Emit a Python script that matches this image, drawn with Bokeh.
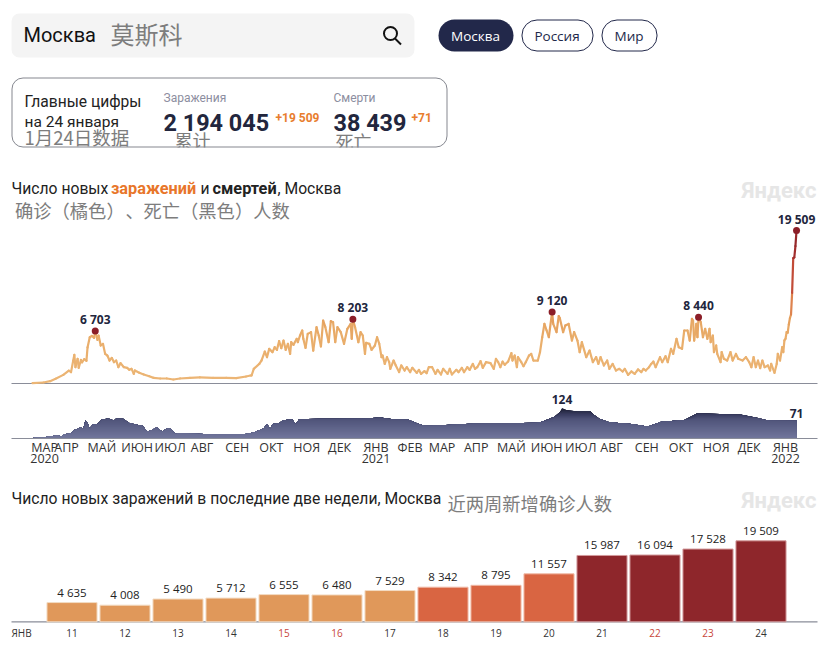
from bokeh.plotting import figure
from bokeh.layouts import column
from bokeh.models import Label, Range1d, FixedTicker, LinearAxis
from bokeh.core.properties import value
from bokeh.embed import file_html
from bokeh.resources import INLINE

# ---------- data ----------
# days since 1 March 2020
case_days = [0,10,16,21,28,33,35,37,38,39,41,42,44,45,47,49,50,52,54,56,57,59,60,62,64,66,68,70,72,74,76,78,80,83,86,88,90,92,93,97,101,106,110,116,122,128,134,143,152,164,176,185,194,198,
 199,201,206,208,211,213,215,218,220,222,224,226,228,230,232,234,235,237,240,241,243,245,246,248,250,253,255,258,260,262,264,266,269,271,273,275,277,280,283,286,289,290,291,293,296,298,300,302,303,306,308,311,313,315,317,318,320,322,324,325,328,330,333,335,338,340,343,345,349,351,353,356,358,360,363,366,368,371,373,377,379,381,385,387,390,392,395,397,400,402,404,407,409,412,416,
 419,421,423,425,427,429,432,435,436,438,440,441,444,446,448,451,453,455,459,461,463,465,467,469,472,473,476,478,479,482,484,487,490,492,495,497,499,503,506,509,512,514,516,519,522,524,527,530,533,536,538,541,544,547,550,553,
 555,557,560,562,564,566,570,572,575,577,580,582,585,587,590,592,595,597,599,600,601,603,604,605,607,609,611,613,615,616,618,619,621,622,625,626,628,631,634,636,639,641,645,648,651,653,655,657,659,661,663,665,668,670,671,674,676,677,679]
case_values = [40,130,300,600,1100,1650,1450,2930,3650,2080,3150,2000,3000,2700,3100,2900,4600,5900,6080,5820,6703,5570,6120,4850,5060,3780,3570,2930,3270,2720,2930,2080,2600,2080,2000,1740,1870,1230,1660,1360,1150,930,720,640,640,510,640,720,770,720,720,680,890,1020,
 1020,1870,2500,2930,4080,3360,4420,4000,4630,4290,5400,4500,5480,4290,5060,3780,5270,4930,5700,5270,6120,6760,5700,4550,6330,6550,4200,7180,6120,4720,8030,7180,5270,7950,7820,5270,7180,6550,5060,6970,7600,5700,8203,7180,5270,6550,6120,3780,5180,5060,4290,4850,5900,5060,3360,3570,2500,3360,2720,1870,2930,2300,1450,2300,1660,2080,1450,2000,1360,1740,1230,1570,1320,2080,2080,1230,1740,1150,1870,1230,1870,1150,1740,1450,2000,1450,2080,1740,2500,1870,2080,2850,2000,2720,2600,
 1870,3150,2720,2080,2800,2380,2800,3870,2930,3570,2080,3360,2720,2210,2720,3570,3780,2930,2930,4000,5900,7600,6760,5900,9120,7600,6550,8600,8330,6550,7400,7600,5480,6550,5480,4000,5270,3360,4200,2720,3360,2500,3360,2300,2930,1870,2500,1660,1870,1530,1870,1100,1530,1230,1790,1450,
 1870,1660,2080,2500,2800,2080,3360,2720,3480,2720,4420,3780,5700,4630,4420,6760,6760,5480,8250,8030,5480,7600,5900,8440,7820,5900,6970,5700,6970,5270,6120,4000,4850,3780,2720,4000,3150,2930,4000,2930,3780,3150,2930,3360,2720,2080,3360,2080,2930,1960,2930,2080,2300,1660,2500,1360,2500,3780,2930]

death_days = [1,12,16,22,27,28,35,38,44,46,48,50,52,54,59,63,69,74,76,82,88,95,100,104,107,113,118,121,125,130,134,143,156,168,180,192,201,207,210,213,216,218,224,227,233,236,239,242,250,262,277,301,316,329,341,351,356,362,398,458,462,474,479,481,485,495,507,510,515,524,544,559,571,592,604,644,659,668,694]
death_values = [1,4,7,10,7,15,19,33,44,37,72,65,37,55,58,76,81,72,81,81,62,55,51,28,30,44,26,37,41,17,21,18,17,14,15,15,23,34,40,58,37,58,61,72,76,76,58,76,78,80,80,81,85,76,76,58,51,51,59,63,66,88,106,124,116,109,109,96,80,65,58,48,67,74,102,96,83,72,71]

recent_dates = [11,12,13,14,15,16,17,18,19,20,21,22,23,24]
recent_cases = [4635,4008,5490,5712,6555,6480,7529,8342,8795,11557,15987,16094,17528,19509]
weekend_dates = [15,16,22,23]
recent_start_day = 681

peak_days = [57,291,472,605,694]
peak_values = [6703,8203,9120,8440,19509]
peak_labels = ["6 703","8 203","9 120","8 440","19 509"]
top_death = (481,124,"124")
last_death = (694,71,"71")

month_labels = ["МАР","АПР","МАЙ","ИЮН","ИЮЛ","АВГ","СЕН","ОКТ","НОЯ","ДЕК","ЯНВ","ФЕВ","МАР","АПР","МАЙ","ИЮН","ИЮЛ","АВГ","СЕН","ОКТ","НОЯ","ДЕК","ЯНВ"]
month_label_days = [11,31,63,95,125,154,186,217,249,279,312,343,372,403,435,467,498,526,558,589,621,651,684]
year_labels = ["2020","2021","2022"]
year_label_days = [11,312,684]

# ---------- style ----------
W = 831
UI = "Roboto"
NUM = "Open Sans"
CJK = "Noto Sans CJK SC"
INK = "#22263d"
GREY_CN = "#7d7d7d"
AXIS = "#8a8d99"
PX_PER_DAY = 1.1009
X0 = 32

def lerp_color(stops, v):
    if v <= stops[0][0]:
        return stops[0][1]
    for (a, ca), (b, cb) in zip(stops, stops[1:]):
        if v <= b:
            f = (v - a) / (b - a)
            rgb = [round(int(ca[i:i+2],16)*(1-f) + int(cb[i:i+2],16)*f) for i in (1,3,5)]
            return "#%02x%02x%02x" % tuple(rgb)
    return stops[-1][1]

def base(h, xr, yr, **kw):
    p = figure(width=W, height=h, x_range=xr, y_range=yr, output_backend="svg",
               toolbar_location=None, min_border=0, outline_line_color=None,
               x_axis_location=None, y_axis_location=None, **kw)
    p.grid.visible = False
    return p

def T(p, x, y, s, size, color, font=UI, style="normal", align="left", baseline="middle", **kw):
    p.text([x], [y], [s], text_font=value(font), text_font_size=f"{size}px", text_color=color,
           text_font_style=style, text_align=align, text_baseline=baseline, **kw)

def day(px):
    return (px - X0) / PX_PER_DAY

# ---------- header ----------
HB = 175
h = base(HB, Range1d(0, W), Range1d(HB, 0))
h.quad(left=[11], right=[414], top=[13], bottom=[57], fill_color="#f4f4f4", line_color=None, border_radius=8)
T(h, 23, 34, "Москва", 20, "#111111", UI)
T(h, 110, 32.5, "莫斯科", 24, GREY_CN, CJK)
h.scatter([390], [33], size=13, marker="circle", fill_color=None, line_color="#111111", line_width=2)
h.segment([394.5], [38], [400.5], [44], line_color="#111111", line_width=2)
h.quad(left=[438], right=[513], top=[19], bottom=[51], fill_color="#22284a", line_color=None, border_radius=16)
h.quad(left=[521.5], right=[592.5], top=[19.5], bottom=[50.5], fill_color="white", line_color="#22284a", border_radius=15)
h.quad(left=[601.5], right=[656.5], top=[19.5], bottom=[50.5], fill_color="white", line_color="#22284a", border_radius=15)
T(h, 475, 35, "Москва", 13.5, "white", NUM, align="center")
T(h, 556.5, 35, "Россия", 13.5, "#22284a", NUM, align="center")
T(h, 628.5, 35, "Мир", 13.5, "#22284a", NUM, align="center")
T(h, 24, 101.5, "Главные цифры", 15.6, "#222222", UI)
T(h, 24, 121.5, "на 24 января", 15.5, "#222222", UI)
T(h, 24, 136.5, "1月24日数据", 18.5, GREY_CN, CJK)
T(h, 174, 139, "累计", 18, GREY_CN, CJK)
T(h, 335, 140, "死亡", 18, GREY_CN, CJK)
h.quad(left=[11], right=[447], top=[147], bottom=[158], fill_color="white", line_color=None)
h.quad(left=[11.5], right=[446.5], top=[77.5], bottom=[146.5], fill_color=None, line_color="#85878f", border_radius=11)
T(h, 163, 97, "Заражения", 12, "#8c8ea0", UI)
T(h, 333, 97, "Смерти", 12, "#8c8ea0", UI)
T(h, 163, 122, "2 194 045", 23.4, INK, UI, "bold")
T(h, 333, 122, "38 439", 23.4, INK, UI, "bold")
T(h, 275, 117, "+19 509", 12, "#e87d2e", UI, "bold")
T(h, 411, 117, "+71", 12, "#e87d2e", UI, "bold")

# ---------- new cases ----------
MT, MB, BASE_Y = 175, 385, 383
K = 0.00784
days_all = case_days + [recent_start_day + i for i in range(len(recent_cases))]
vals_all = case_values + recent_cases
stops = [(0,"#ecb676"),(6000,"#e9ad6a"),(9000,"#e39a58"),(12000,"#d6603f"),(16000,"#a8322f"),(19509,"#8f2529")]
m = base(MB - MT, Range1d(day(0), day(W)), Range1d(-(MB - BASE_Y) / K, (BASE_Y - MT) / K))
m.segment([day(11)], [0], [day(817)], [0], line_color=AXIS, line_width=1.2)
m.segment(days_all[:-1], vals_all[:-1], days_all[1:], vals_all[1:],
          line_color=[lerp_color(stops, (a + b) / 2) for a, b in zip(vals_all, vals_all[1:])],
          line_width=2.2, line_cap="round")
m.scatter(peak_days, peak_values, size=7, marker="circle", fill_color="#8b1e28", line_color=None)
m.text(peak_days, peak_values, peak_labels, text_font=value(NUM), text_font_size="12px", text_font_style="bold",
       text_color=INK, text_align="center", text_baseline="bottom", y_offset=-3)

def L(p, bottom, x, y, s, size, color, font=UI, style="normal", align="left"):
    p.add_layout(Label(x=x, y=bottom - y, x_units="screen", y_units="screen", text=s, text_font=font,
                       text_font_size=f"{size}px", text_color=color, text_font_style=style,
                       text_baseline="middle", text_align=align))

L(m, MB, 11, 188, "Число новых", 15.7, "#222222")
L(m, MB, 110.5, 188, "заражений", 16.3, "#e8762a", UI, "bold")
L(m, MB, 200, 188, "и", 15.7, "#222222")
L(m, MB, 212, 188, "смертей", 16.3, "#222222", UI, "bold")
L(m, MB, 277, 188, ", Москва", 15.7, "#222222")
L(m, MB, 14.5, 209, "确诊（橘色）", 18.3, GREY_CN, CJK)
L(m, MB, 125, 209, "、", 18.3, GREY_CN, CJK)
L(m, MB, 143, 209, "死亡（黑色）人数", 18.3, GREY_CN, CJK)
L(m, MB, 741, 190, "Яндекс", 22, "#e6e6e6", UI, "bold")

# ---------- new deaths ----------
DB = 472
DK = 0.242
DFRAME = 437.5
d = base(DB - MB, Range1d(day(0), day(W)), Range1d(-(DB - DFRAME) / DK, (DFRAME - MB) / DK))
dstops = [(0,"#72779c"),(80,"#4f5379"),(100,"#383b5e"),(124,"#1b1d33")]
for level in range(124, 0, -3):
    d.varea(death_days, [0] * len(death_days), [min(v, level) for v in death_values],
            fill_color=lerp_color(dstops, level))
d.text([top_death[0]], [top_death[1]], [top_death[2]], text_font=value(NUM), text_font_size="12px", text_font_style="bold",
       text_color=INK, text_align="center", text_baseline="bottom", y_offset=-4)
d.text([last_death[0]], [last_death[1]], [last_death[2]], text_font=value(NUM), text_font_size="12px", text_font_style="bold",
       text_color=INK, text_align="center", text_baseline="bottom", y_offset=-3)
ax = LinearAxis(ticker=FixedTicker(ticks=month_label_days),
                major_label_overrides=dict(zip(month_label_days, month_labels)),
                major_label_text_font=NUM, major_label_text_font_size="12.5px", major_label_text_color="#333333",
                major_label_standoff=1, major_tick_line_color=None, minor_tick_line_color=None,
                major_tick_out=0, major_tick_in=0, fixed_location=0,
                axis_line_color=AXIS, axis_line_width=1.2, bounds=(day(11), day(817)))
d.add_layout(ax, "below")
d.text(year_label_days, [-(458 - DFRAME) / DK] * len(year_labels), year_labels, text_font=value(NUM),
       text_font_size="12.5px", text_color="#333333", text_align="center", text_baseline="middle")

# ---------- last two weeks ----------
BB, BASE2 = 650, 621.3
BK = 0.00415
PITCH = 53.0
bx = lambda px: recent_dates[0] + (px - 71.5) / PITCH
b = base(BB - DB, Range1d(bx(0), bx(W)), Range1d(-(BB - BASE2) / BK, (BASE2 - DB) / BK))
b.segment([bx(11)], [0], [bx(817)], [0], line_color=AXIS, line_width=1.2)
def bar_color(v):
    return ("#e0985a","#f3dcc4") if v < 8000 else (("#d96542","#f0bba8") if v < 15000 else ("#8e262b","#d39a9c"))
b.vbar(x=recent_dates, width=0.945, bottom=0, top=recent_cases,
       fill_color=[bar_color(v)[0] for v in recent_cases], line_color=[bar_color(v)[1] for v in recent_cases], line_width=1)
b.text(recent_dates, recent_cases, [f"{v:,}".replace(",", " ") for v in recent_cases], text_font=value(NUM),
       text_font_size="11.5px", text_color="#222222", text_align="center", text_baseline="bottom", y_offset=-3)
yl = -(632 - BASE2) / BK
b.text(recent_dates, [yl] * len(recent_dates), [str(v) for v in recent_dates], text_font=value(NUM), text_font_size="10px",
       text_color=["#c8473b" if v in weekend_dates else "#333333" for v in recent_dates], text_align="center", text_baseline="middle")
T(b, bx(11), yl, "ЯНВ", 10, "#333333", NUM)
L(b, BB, 11, 498, "Число новых заражений в последние две недели, Москва", 15.7, "#222222")
L(b, BB, 447, 502, "近两周新增确诊人数", 18.3, GREY_CN, CJK)
L(b, BB, 741, 500, "Яндекс", 22, "#e6e6e6", UI, "bold")

page = column(h, m, d, b, spacing=0)
open("out.html", "w").write(file_html(page, INLINE))
